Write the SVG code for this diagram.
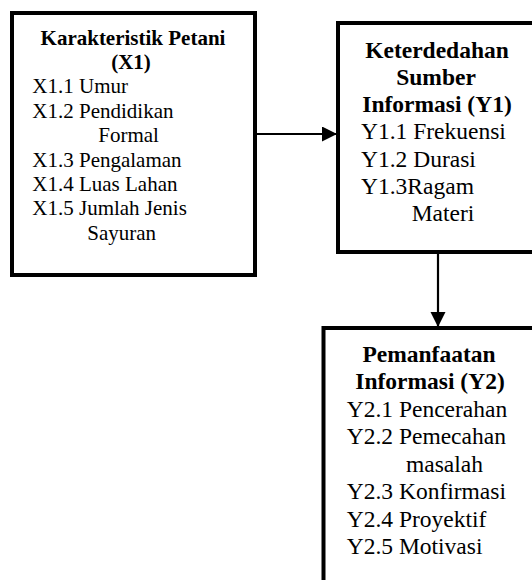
<svg xmlns="http://www.w3.org/2000/svg" width="532" height="580" viewBox="0 0 532 580">
<style>
.box{fill:#fff;stroke:#000;stroke-width:4}
text{font-family:"Liberation Serif","Times New Roman",serif;fill:#000}
.s{font-size:21px}
.l{font-size:23.5px}
.b{font-weight:bold;text-anchor:middle}
.conn{stroke:#000;stroke-width:2.2;fill:none}
</style>
<defs>
<marker id="ah" markerUnits="userSpaceOnUse" markerWidth="16" markerHeight="16" refX="15" refY="7.5" orient="auto">
<path d="M0,0 L15,7.5 L0,15 z" fill="#000"/>
</marker>
</defs>
<rect width="532" height="580" fill="#fff"/>
<g id="connectors">
<line class="conn" x1="257" y1="134" x2="337" y2="134" marker-end="url(#ah)"/>
<line class="conn" x1="438" y1="253" x2="438" y2="327" marker-end="url(#ah)"/>
</g>
<g id="x1" class="s">
<rect class="box" x="12" y="13" width="243" height="262"/>
<text class="b" x="133" y="44.5">Karakteristik Petani</text>
<text class="b" x="131" y="68.9">(X1)</text>
<text x="32.3" y="93.3">X1.1 Umur</text>
<text x="32.3" y="117.7">X1.2 Pendidikan</text>
<text x="98.3" y="142.1">Formal</text>
<text x="32.3" y="166.5">X1.3 Pengalaman</text>
<text x="32.3" y="190.9">X1.4 Luas Lahan</text>
<text x="32.3" y="215.3">X1.5 Jumlah Jenis</text>
<text x="87.3" y="239.7">Sayuran</text>
</g>
<g id="y1" class="l">
<rect class="box" x="338" y="23" width="300" height="229"/>
<text class="b" x="437" y="57.5">Keterdedahan</text>
<text class="b" x="436" y="84.8">Sumber</text>
<text class="b" x="437" y="112.1">Informasi (Y1)</text>
<text x="361" y="139.4">Y1.1 Frekuensi</text>
<text x="361" y="166.7">Y1.2 Durasi</text>
<text x="361" y="194">Y1.3Ragam</text>
<text x="411.7" y="221.3">Materi</text>
</g>
<g id="y2" class="l">
<rect class="box" x="323.5" y="328" width="300" height="300"/>
<text class="b" x="429" y="361.5">Pemanfaatan</text>
<text class="b" x="430" y="389">Informasi (Y2)</text>
<text x="346.7" y="416.5">Y2.1 Pencerahan</text>
<text x="346.7" y="444">Y2.2 Pemecahan</text>
<text x="406" y="471.5">masalah</text>
<text x="346.7" y="499">Y2.3 Konfirmasi</text>
<text x="346.7" y="526.5">Y2.4 Proyektif</text>
<text x="346.7" y="554">Y2.5 Motivasi</text>
</g>
</svg>
